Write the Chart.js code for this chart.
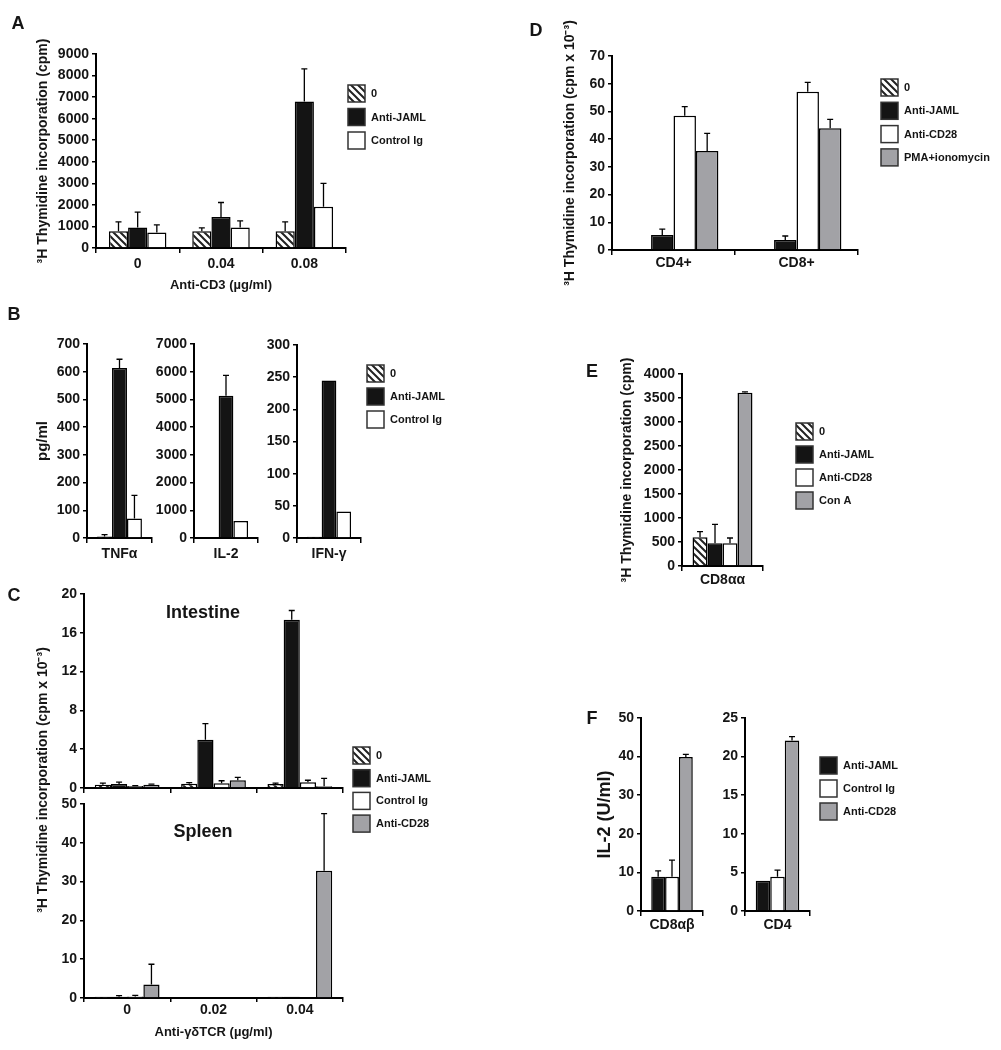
<!DOCTYPE html>
<html>
<head>
<meta charset="utf-8">
<script src="https://cdn.jsdelivr.net/npm/chart.js@4"></script>
<style>
  html, body { margin: 0; padding: 0; background: #fff; }
  #fig { position: relative; width: 1001px; height: 1050px; overflow: hidden; }
  #fig canvas { position: absolute; left: 0; top: 0; }
</style>
</head>
<body>
<div id="fig"></div>
<script>
// ---- panel A : 3H thymidine vs anti-CD3
const aCats = ['0', '0.04', '0.08'];
const aZero = [780, 780, 780],    aZeroErr = [430, 150, 430];
const aJaml = [950, 1440, 6800],  aJamlErr = [710, 670, 1510];
const aCtrl = [715, 950, 1910],   aCtrlErr = [355, 310, 1090];

// ---- panel B : cytokines (one small chart each)
const bCats = ['TNFα', 'IL-2', 'IFN-γ'];
const bZero = [5, 0, 2],          bZeroErr = [7, 0, 0];
const bJaml = [613, 5130, 245],   bJamlErr = [32, 740, 0];
const bCtrl = [70, 615, 41],      bCtrlErr = [84, 0, 0];
const bMax = [700, 7000, 300];
const bStep = [100, 1000, 50];

// ---- panel C : anti-gd TCR, intestine / spleen
const cCats = ['0', '0.02', '0.04'];
const ciZero = [0.34, 0.45, 0.4],  ciZeroErr = [0.16, 0.1, 0.1];
const ciJaml = [0.4, 4.98, 17.35], ciJamlErr = [0.2, 1.65, 0.95];
const ciCtrl = [0.2, 0.5, 0.58],   ciCtrlErr = [0.05, 0.25, 0.22];
const ciCd28 = [0.34, 0.8, 0.17],  ciCd28Err = [0.06, 0.3, 0.83];
const csZero = [0.3, 0.25, 0.3],   csZeroErr = [0, 0, 0];
const csJaml = [0.3, 0.25, 0.3],   csJamlErr = [0.3, 0, 0];
const csCtrl = [0.4, 0.25, 0.2],   csCtrlErr = [0.3, 0, 0];
const csCd28 = [3.45, 0.25, 32.8], csCd28Err = [5.25, 0, 14.7];

// ---- panel D
const dCats = ['CD4+', 'CD8+'];
const dZero = [0.2, 0.2];
const dJaml = [5.4, 3.6],   dJamlErr = [2.1, 1.45];
const dCd28 = [48.4, 57.1], dCd28Err = [3.3, 3.4];
const dPma = [35.7, 43.9],  dPmaErr = [6.4, 3.2];

// ---- panel E
const eCats = ['CD8αα'];
const eZero = [597],  eZeroErr = [118];
const eJaml = [472],  eJamlErr = [396];
const eCd28 = [472],  eCd28Err = [111];
const eConA = [3611], eConAErr = [15];

// ---- panel F : IL-2
const fCats = ['CD8αβ', 'CD4'];
const fJaml = [8.9, 3.92],  fJamlErr = [1.5, 0];
const fCtrl = [8.9, 4.44],  fCtrlErr = [4.3, 0.86];
const fCd28 = [39.9, 22.1], fCd28Err = [0.7, 0.5];
const fMax = [50, 25];
const fStep = [10, 5];

const W = 1001, H = 1050;
const FONT = '"Liberation Sans", Arial, Helvetica, sans-serif';
Chart.defaults.font.family = FONT;
Chart.defaults.font.weight = 'bold';
Chart.defaults.color = '#151515';

const BLACK = '#141414';
const WHITE = '#ffffff';
const GRAY = '#a2a2a6';
const HATCH = (() => {
  const c = document.createElement('canvas');
  c.width = 7; c.height = 7;
  const g = c.getContext('2d');
  g.fillStyle = '#fff';
  g.fillRect(0, 0, 7, 7);
  g.strokeStyle = '#222';
  g.lineWidth = 2;
  g.beginPath();
  g.moveTo(-1, -1); g.lineTo(8, 8);
  g.moveTo(-8, -1); g.lineTo(1, 8);
  g.moveTo(6, -1); g.lineTo(15, 8);
  g.stroke();
  return g.createPattern(c, 'repeat');
})();

// upward error bars with a cap, taken from dataset.err
const errorBars = {
  id: 'errorBars',
  afterDatasetsDraw(chart) {
    const ctx = chart.ctx, y = chart.scales.y;
    chart.data.datasets.forEach((ds, i) => {
      if (!ds.err) return;
      chart.getDatasetMeta(i).data.forEach((bar, j) => {
        const e = ds.err[j];
        if (!e) return;
        const top = y.getPixelForValue(ds.data[j] + e);
        ctx.save();
        ctx.strokeStyle = '#000';
        ctx.lineWidth = 1.3;
        ctx.beginPath();
        ctx.moveTo(bar.x, bar.y);
        ctx.lineTo(bar.x, top);
        ctx.moveTo(bar.x - 3, top);
        ctx.lineTo(bar.x + 3, top);
        ctx.stroke();
        ctx.restore();
      });
    });
  }
};

// legend boxes + free text (panel letters, subtitles)
function extras(o) {
  return {
    id: 'extras',
    afterDraw(chart) {
      const ctx = chart.ctx;
      if (o.keys) {
        chart.data.datasets.forEach((ds, i) => {
          const y = o.keys.y + i * o.keys.step;
          ctx.fillStyle = ds.backgroundColor;
          ctx.fillRect(o.keys.x, y, 17, 17);
          ctx.strokeStyle = '#333';
          ctx.lineWidth = 1.5;
          ctx.strokeRect(o.keys.x, y, 17, 17);
          ctx.fillStyle = '#151515';
          ctx.font = 'bold 11px ' + FONT;
          ctx.textAlign = 'left';
          ctx.textBaseline = 'middle';
          ctx.fillText(ds.label, o.keys.x + 23, y + 9);
        });
      }
      (o.notes || []).forEach(n => {
        ctx.save();
        ctx.translate(n.x, n.y);
        if (n.rot) ctx.rotate(n.rot);
        ctx.font = 'bold ' + n.size + 'px ' + FONT;
        ctx.fillStyle = '#151515';
        ctx.textAlign = 'center';
        ctx.textBaseline = 'middle';
        ctx.fillText(n.text, 0, 0);
        ctx.restore();
      });
    }
  };
}

const fig = document.getElementById('fig');

function makeChart(o) {
  const cv = document.createElement('canvas');
  cv.width = W; cv.height = H;
  fig.appendChild(cv);
  const [x0, y0, x1, y1] = o.box;
  return new Chart(cv, {
    type: 'bar',
    data: {
      labels: o.labels,
      datasets: o.sets.map(s => ({
        label: s.label, data: s.data, err: s.err,
        backgroundColor: s.fill, borderColor: '#000', borderWidth: 1.5,
        categoryPercentage: o.pct, barPercentage: 1
      }))
    },
    options: {
      responsive: false, animation: false, events: [], devicePixelRatio: 1,
      layout: { padding: { left: x0 - o.yw, top: y0, right: W - x1, bottom: H - y1 - o.xh } },
      plugins: { legend: { display: false }, tooltip: { enabled: false } },
      scales: {
        x: {
          grid: { offset: true, drawOnChartArea: false, color: '#000', lineWidth: 1.5, tickLength: o.xtl || 5 },
          border: { color: '#000', width: 2 },
          ticks: { display: o.xTicks !== false, padding: o.xpad, maxRotation: 0, autoSkip: false,
                   font: { size: 14, weight: 'bold' } },
          title: { display: !!o.xTitle, text: o.xTitle || '', padding: 0, font: { size: 13, weight: 'bold' } },
          afterFit: s => { s.height = o.xh; }
        },
        y: {
          min: 0, max: o.max,
          grid: { drawOnChartArea: false, color: '#000', lineWidth: 1.5, tickLength: 4 },
          border: { color: '#000', width: 2 },
          ticks: { stepSize: o.step, padding: 3, font: { size: 14, weight: 'bold' }, callback: v => String(v) },
          title: { display: !!o.yTitle, text: o.yTitle || '', padding: 0,
                   font: { size: o.yTitleSize || 14, weight: 'bold' } },
          afterFit: s => { s.width = o.yw; }
        }
      }
    },
    plugins: [errorBars, extras(o)]
  });
}

// A
makeChart({
  box: [96, 54, 346, 248], yw: 61, xh: 45, xpad: 3, pct: 0.69, max: 9000, step: 1000,
  labels: aCats, yTitle: '³H Thymidine incorporation (cpm)', xTitle: 'Anti-CD3 (µg/ml)',
  sets: [
    { label: '0', data: aZero, err: aZeroErr, fill: HATCH },
    { label: 'Anti-JAML', data: aJaml, err: aJamlErr, fill: BLACK },
    { label: 'Control Ig', data: aCtrl, err: aCtrlErr, fill: WHITE }
  ],
  keys: { x: 348, y: 85, step: 23.5 },
  notes: [{ text: 'A', x: 18, y: 24, size: 18 }]
});

// B (three small charts)
const bBoxes = [[87, 344, 152, 538], [194, 344, 258, 538], [297, 345, 361, 538]];
bCats.forEach((cat, k) => {
  makeChart({
    box: bBoxes[k], yw: k === 0 ? 53 : 45, xh: 30, xpad: 3, pct: 0.69, max: bMax[k], step: bStep[k],
    labels: [cat], yTitle: k === 0 ? 'pg/ml' : '', yTitleSize: 15,
    sets: [
      { label: '0', data: [bZero[k]], err: [bZeroErr[k]], fill: HATCH },
      { label: 'Anti-JAML', data: [bJaml[k]], err: [bJamlErr[k]], fill: BLACK },
      { label: 'Control Ig', data: [bCtrl[k]], err: [bCtrlErr[k]], fill: WHITE }
    ],
    keys: k === 2 ? { x: 367, y: 365, step: 23 } : null,
    notes: k === 0 ? [{ text: 'B', x: 14, y: 315, size: 18 }] : []
  });
});

// C intestine
makeChart({
  box: [84, 594, 343, 788], yw: 45, xh: 8, xTicks: false, xpad: 0, pct: 0.75, max: 20, step: 4,
  labels: cCats,
  sets: [
    { label: '0', data: ciZero, err: ciZeroErr, fill: HATCH },
    { label: 'Anti-JAML', data: ciJaml, err: ciJamlErr, fill: BLACK },
    { label: 'Control Ig', data: ciCtrl, err: ciCtrlErr, fill: WHITE },
    { label: 'Anti-CD28', data: ciCd28, err: ciCd28Err, fill: GRAY }
  ],
  keys: { x: 353, y: 747, step: 22.7 },
  notes: [
    { text: 'C', x: 14, y: 596, size: 18 },
    { text: 'Intestine', x: 203, y: 613, size: 18 },
    { text: '³H Thymidine incorporation (cpm x 10⁻³)', x: 43, y: 780, size: 14, rot: -Math.PI / 2 }
  ]
});

// C spleen
makeChart({
  box: [84, 804, 343, 998], yw: 45, xh: 42, xtl: 4, xpad: 0, pct: 0.75, max: 50, step: 10,
  labels: cCats, xTitle: 'Anti-γδTCR (µg/ml)',
  sets: [
    { label: '0', data: csZero, err: csZeroErr, fill: HATCH },
    { label: 'Anti-JAML', data: csJaml, err: csJamlErr, fill: BLACK },
    { label: 'Control Ig', data: csCtrl, err: csCtrlErr, fill: WHITE },
    { label: 'Anti-CD28', data: csCd28, err: csCd28Err, fill: GRAY }
  ],
  notes: [{ text: 'Spleen', x: 203, y: 832, size: 18 }]
});

// D
makeChart({
  box: [612, 56, 858, 250], yw: 50, xh: 28, xpad: 0, pct: 0.73, max: 70, step: 10,
  labels: dCats, yTitle: '³H Thymidine incorporation (cpm x 10⁻³)',
  sets: [
    { label: '0', data: dZero, fill: HATCH },
    { label: 'Anti-JAML', data: dJaml, err: dJamlErr, fill: BLACK },
    { label: 'Anti-CD28', data: dCd28, err: dCd28Err, fill: WHITE },
    { label: 'PMA+ionomycin', data: dPma, err: dPmaErr, fill: GRAY }
  ],
  keys: { x: 881, y: 79, step: 23.3 },
  notes: [{ text: 'D', x: 536, y: 31, size: 18 }]
});

// E
makeChart({
  box: [682, 374, 763, 566], yw: 63, xh: 28, xpad: 1, pct: 0.74, max: 4000, step: 500,
  labels: eCats, yTitle: '³H Thymidine incorporation (cpm)',
  sets: [
    { label: '0', data: eZero, err: eZeroErr, fill: HATCH },
    { label: 'Anti-JAML', data: eJaml, err: eJamlErr, fill: BLACK },
    { label: 'Anti-CD28', data: eCd28, err: eCd28Err, fill: WHITE },
    { label: 'Con A', data: eConA, err: eConAErr, fill: GRAY }
  ],
  keys: { x: 796, y: 423, step: 23 },
  notes: [{ text: 'E', x: 592, y: 372, size: 18 }]
});

// F (two small charts)
const fBoxes = [[641, 718, 703, 911], [745, 718, 810, 911]];
fCats.forEach((cat, k) => {
  makeChart({
    box: fBoxes[k], yw: k === 0 ? 47 : 45, xh: 28, xpad: 1, pct: 0.67, max: fMax[k], step: fStep[k],
    labels: [cat], yTitle: k === 0 ? 'IL-2 (U/ml)' : '', yTitleSize: 18,
    sets: [
      { label: 'Anti-JAML', data: [fJaml[k]], err: [fJamlErr[k]], fill: BLACK },
      { label: 'Control Ig', data: [fCtrl[k]], err: [fCtrlErr[k]], fill: WHITE },
      { label: 'Anti-CD28', data: [fCd28[k]], err: [fCd28Err[k]], fill: GRAY }
    ],
    keys: k === 1 ? { x: 820, y: 757, step: 23 } : null,
    notes: k === 0 ? [{ text: 'F', x: 592, y: 719, size: 18 }] : []
  });
});
</script>
</body>
</html>
